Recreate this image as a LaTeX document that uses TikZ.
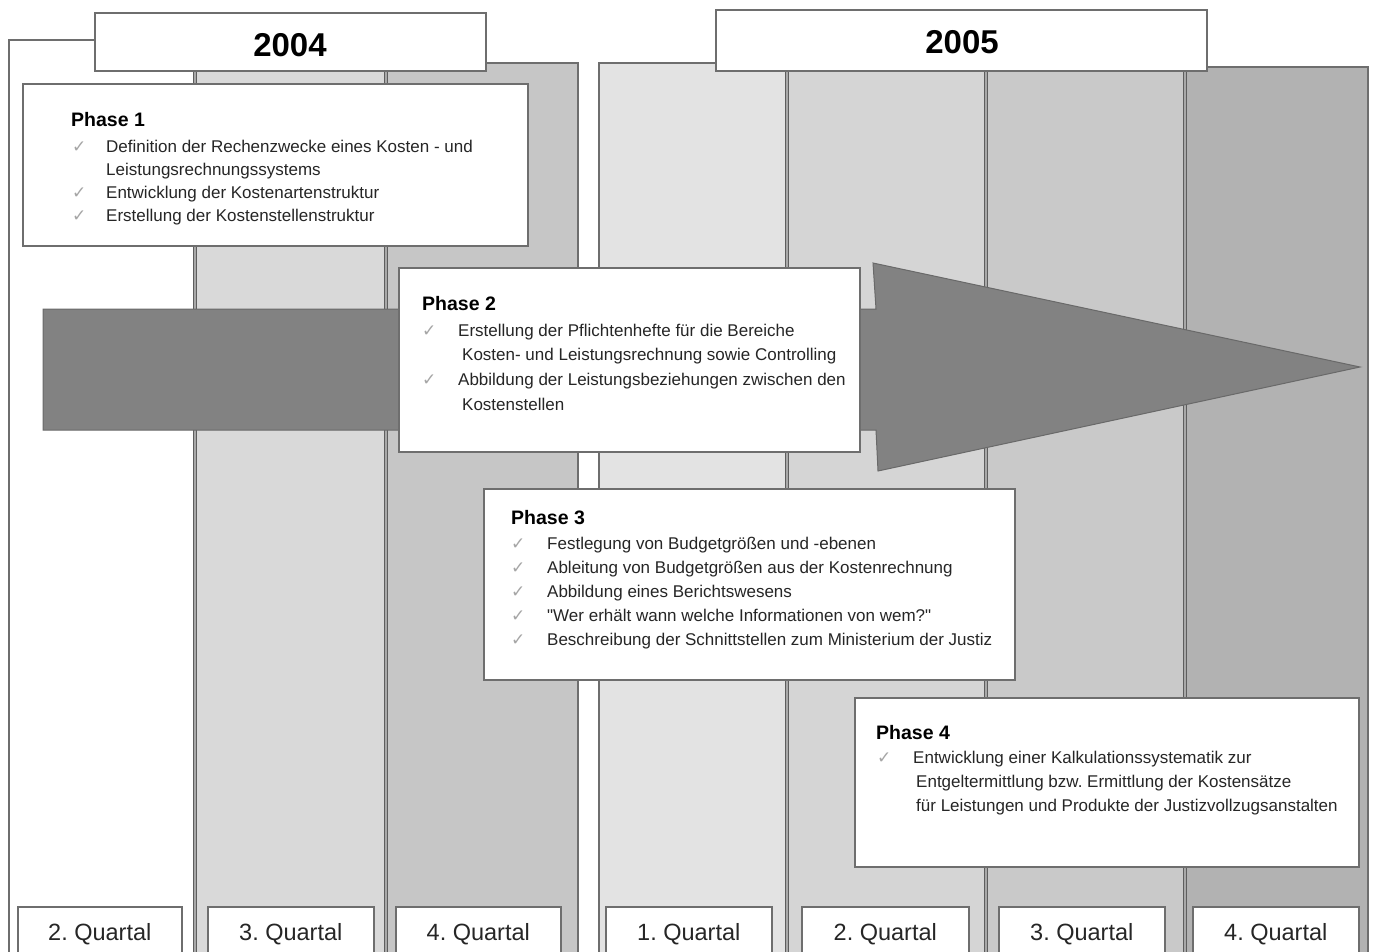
\documentclass[tikz,border=0pt]{standalone}
\usepackage{fontspec}
\setmainfont{Liberation Sans}
\newfontfamily\dejavu{DejaVu Sans}
\definecolor{bord}{HTML}{6E6E6E}
\definecolor{sepc}{HTML}{5E5E5E}
\definecolor{sepin}{HTML}{A8A8A8}
\definecolor{cA}{HTML}{FFFFFF}
\definecolor{cB}{HTML}{D9D9D9}
\definecolor{cC}{HTML}{C6C6C6}
\definecolor{dA}{HTML}{E3E3E3}
\definecolor{dB}{HTML}{D5D5D5}
\definecolor{dC}{HTML}{C9C9C9}
\definecolor{dD}{HTML}{B2B2B2}
\definecolor{arrowc}{HTML}{828282}
\definecolor{arrowb}{HTML}{696969}
\definecolor{chkgray}{HTML}{A6A6A6}
\definecolor{txt}{HTML}{262626}
\newcommand{\ck}[1]{\makebox[#1][l]{{\dejavu\color{chkgray}\fontsize{17}{17}\selectfont ✓}}}
\newcommand{\ind}[1]{\makebox[#1][l]{}}
\tikzset{
  colfill/.style={draw=none},
  outline/.style={draw=bord, line width=1.6pt},
  sepline/.style={draw=sepc, line width=1.2pt, double=sepin, double distance=1.4pt},
  hdrbox/.style={draw=bord, line width=1.8pt, fill=white, inner sep=0pt, anchor=north west},
  hdrtext/.style={font=\bfseries\fontsize{33}{33}\selectfont, anchor=base, inner sep=0pt},
  phasebox/.style={draw=bord, line width=1.8pt, fill=white, inner sep=0pt, anchor=north west},
  phasetitle/.style={font=\bfseries\fontsize{19.5}{20}\selectfont, anchor=base west, inner sep=0pt},
  items/.style={anchor=base west, inner sep=0pt, text=txt},
  qbox/.style={draw=bord, line width=1.6pt, fill=white, inner sep=0pt, anchor=north west,
    font=\fontsize{23.5}{24}\selectfont, text=txt, text height=17pt, text depth=0pt},
  bigarrow/.style={fill=arrowc, draw=arrowb, line width=1pt, line join=miter},
}
\begin{document}
\frenchspacing
\begin{tikzpicture}[x=1pt,y=-1pt]
\useasboundingbox (0,0) rectangle (1375,952);
\fill[white] (0,0) rectangle (1375,952);
% 2004 columns
\fill[cA] (9,40) rectangle (195,960);
\fill[cB] (195,63) rectangle (386,960);
\fill[cC] (386,63) rectangle (578,960);
\draw[outline] (9,960) -- (9,40) -- (195,40) -- (195,63) -- (578,63) -- (578,960);
% 2005 columns
\fill[dA] (599,63) rectangle (787,960);
\fill[dB] (787,63) rectangle (986,960);
\fill[dC] (986,63) rectangle (1185,960);
\fill[dD] (1185,67) rectangle (1368,960);
\draw[outline] (599,960) -- (599,63) -- (1185,63) -- (1185,67) -- (1368,67) -- (1368,960);
% separators
\draw[sepline] (195,63) -- (195,960);
\draw[sepline] (386,63) -- (386,960);
\draw[sepline] (787,63) -- (787,960);
\draw[sepline] (986,63) -- (986,960);
\draw[sepline] (1185,63) -- (1185,960);
% headers
\node[hdrbox, minimum width=391pt, minimum height=58pt] (h2004) at (94,12) {};
\node[hdrtext] (t2004) at (290,57) {2004};
\node[hdrbox, minimum width=491pt, minimum height=61pt] (h2005) at (715,9) {};
\node[hdrtext] (t2005) at (962,54) {2005};
% big arrow
\path[bigarrow] (43,309) -- (876,309) -- (873,263) -- (1360,367) -- (878,471) -- (876,430) -- (43,430) -- cycle;
% Phase 1
\node[phasebox, minimum width=505pt, minimum height=162pt] (p1) at (22,83) {};
\node[phasetitle] (p1t) at (71,127) {Phase 1};
\node[items, font=\fontsize{17}{22.7}\selectfont] (p1i) at (72,153) {\begin{tabular}[t]{@{}l@{}}
\ck{34pt}Definition der Rechenzwecke eines Kosten - und\\
\ind{34pt}Leistungsrechnungssystems\\
\ck{34pt}Entwicklung der Kostenartenstruktur\\
\ck{34pt}Erstellung der Kostenstellenstruktur
\end{tabular}};
% Phase 2
\node[phasebox, minimum width=461pt, minimum height=184pt] (p2) at (398,267) {};
\node[phasetitle] (p2t) at (422,310) {Phase 2};
\node[items, font=\fontsize{17}{24.7}\selectfont] (p2i) at (422,336) {\begin{tabular}[t]{@{}l@{}}
\ck{36pt}Erstellung der Pflichtenhefte für die Bereiche\\
\ind{40pt}Kosten- und Leistungsrechnung sowie Controlling\\
\ck{36pt}Abbildung der Leistungsbeziehungen zwischen den\\
\ind{40pt}Kostenstellen
\end{tabular}};
% Phase 3
\node[phasebox, minimum width=531pt, minimum height=191pt] (p3) at (483,488) {};
\node[phasetitle] (p3t) at (511,524) {Phase 3};
\node[items, font=\fontsize{17}{24}\selectfont] (p3i) at (511,549) {\begin{tabular}[t]{@{}l@{}}
\ck{36pt}Festlegung von Budgetgrößen und -ebenen\\
\ck{36pt}Ableitung von Budgetgrößen aus der Kostenrechnung\\
\ck{36pt}Abbildung eines Berichtswesens\\
\ck{36pt}\textquotedbl Wer erhält wann welche Informationen von wem?\textquotedbl\\
\ck{36pt}Beschreibung der Schnittstellen zum Ministerium der Justiz
\end{tabular}};
% Phase 4
\node[phasebox, minimum width=504pt, minimum height=169pt] (p4) at (854,697) {};
\node[phasetitle] (p4t) at (876,739) {Phase 4};
\node[items, font=\fontsize{17}{24}\selectfont] (p4i) at (877,763) {\begin{tabular}[t]{@{}l@{}}
\ck{36pt}Entwicklung einer Kalkulationssystematik zur\\
\ind{39pt}Entgeltermittlung bzw. Ermittlung der Kostensätze\\
\ind{39pt}für Leistungen und Produkte der Justizvollzugsanstalten
\end{tabular}};
% Quartal boxes
\node[qbox, minimum width=164pt, minimum height=50pt] (q1) at (17,906) {2. Quartal};
\node[qbox, minimum width=166pt, minimum height=50pt] (q2) at (207,906) {3. Quartal};
\node[qbox, minimum width=165pt, minimum height=50pt] (q3) at (395,906) {4. Quartal};
\node[qbox, minimum width=166pt, minimum height=50pt] (q4) at (605,906) {1. Quartal};
\node[qbox, minimum width=167pt, minimum height=50pt] (q5) at (801,906) {2. Quartal};
\node[qbox, minimum width=166pt, minimum height=50pt] (q6) at (998,906) {3. Quartal};
\node[qbox, minimum width=166pt, minimum height=50pt] (q7) at (1192,906) {4. Quartal};
\end{tikzpicture}
\end{document}
